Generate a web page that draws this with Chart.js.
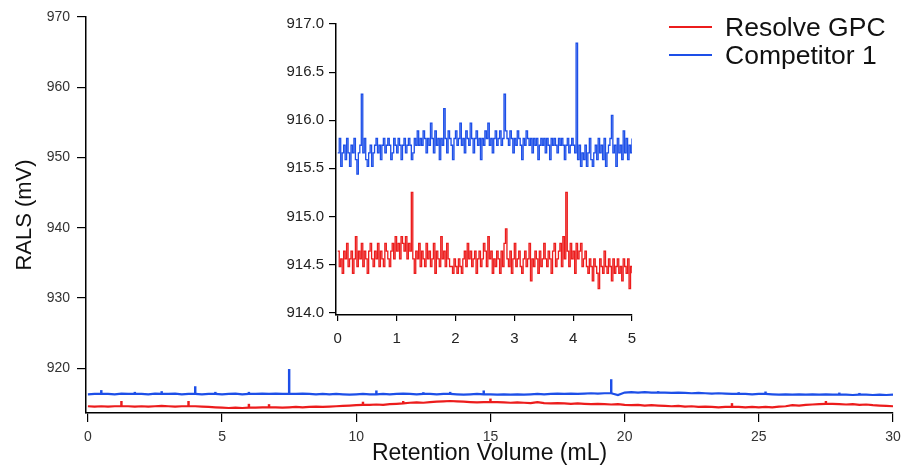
<!DOCTYPE html>
<html>
<head>
<meta charset="utf-8">
<script src="https://cdn.jsdelivr.net/npm/chart.js@4.4.1/dist/chart.umd.min.js"></script>
<style>
  html, body { margin: 0; padding: 0; background: #fff; }
  #wrap { position: relative; width: 902px; height: 465px; overflow: hidden; }
  #mainChart { position: absolute; left: 0; top: 0; }
  #insetChart { position: absolute; left: 270px; top: 0; }
  #legend { position: absolute; left: 669px; top: 13px; font-family: "Liberation Sans", Arial, sans-serif; }
  #legend .item { display: flex; align-items: center; height: 28px; }
  #legend .swatch { width: 43px; height: 0; border-top: 2px solid; margin-right: 13px; }
  #legend .text { font-size: 26.5px; color: #111; line-height: 28px; }
</style>
</head>
<body>
<div id="wrap">
  <canvas id="mainChart" width="902" height="465"></canvas>
  <canvas id="insetChart" width="380" height="350"></canvas>
  <div id="legend"></div>
</div>
<script>
// series names and colours
const seriesNames = ["Resolve GPC", "Competitor 1"];
const seriesColors = ["#ec1c1c", "#1d4fe8"];

// full run, 0 - 30 mL, baseline read every 0.25 mL
const mainStep = 0.25;
const resolveMain = [
  914.60, 914.55, 914.60, 914.55, 914.60, 914.60, 914.60, 914.55, 914.60, 914.55,
  914.60, 914.65, 914.60, 914.55, 914.60, 914.60, 914.60, 914.55, 914.50, 914.45,
  914.40, 914.35, 914.40, 914.35, 914.40, 914.40, 914.45, 914.45, 914.45, 914.40,
  914.45, 914.50, 914.45, 914.50, 914.55, 914.50, 914.55, 914.60, 914.65, 914.70,
  914.75, 914.80, 914.80, 914.85, 914.80, 914.90, 914.95, 915.00, 915.10, 915.15,
  915.10, 915.20, 915.25, 915.30, 915.35, 915.30, 915.25, 915.20, 915.15, 915.20,
  915.20, 915.20, 915.15, 915.10, 915.15, 915.10, 915.05, 915.20, 915.05, 915.00,
  915.05, 915.00, 914.95, 915.00, 914.95, 914.90, 914.95, 914.90, 914.85, 914.90,
  914.80, 914.75, 914.80, 914.70, 914.75, 914.70, 914.65, 914.60, 914.65, 914.55,
  914.60, 914.50, 914.55, 914.50, 914.45, 914.50, 914.50, 914.50, 914.45, 914.50,
  914.45, 914.50, 914.45, 914.55, 914.60, 914.75, 914.70, 914.80, 914.85, 914.90,
  914.95, 914.95, 914.90, 914.85, 914.90, 914.80, 914.85, 914.75, 914.70, 914.65,
  914.60
];
const competitorMain = [
  916.30, 916.35, 916.35, 916.35, 916.30, 916.40, 916.35, 916.35, 916.35, 916.30,
  916.40, 916.35, 916.35, 916.40, 916.30, 916.35, 916.35, 916.30, 916.35, 916.35,
  916.30, 916.35, 916.40, 916.30, 916.35, 916.35, 916.40, 916.35, 916.40, 916.35,
  916.35, 916.35, 916.40, 916.35, 916.30, 916.35, 916.30, 916.35, 916.30, 916.25,
  916.30, 916.35, 916.30, 916.30, 916.35, 916.30, 916.35, 916.40, 916.35, 916.30,
  916.35, 916.35, 916.30, 916.35, 916.35, 916.30, 916.25, 916.30, 916.35, 916.30,
  916.30, 916.25, 916.30, 916.25, 916.30, 916.25, 916.30, 916.35, 916.30, 916.35,
  916.40, 916.35, 916.40, 916.35, 916.40, 916.45, 916.40, 916.45, 916.45, 916.20,
  916.55, 916.60, 916.55, 916.60, 916.55, 916.55, 916.55, 916.50, 916.55, 916.50,
  916.45, 916.50, 916.45, 916.40, 916.45, 916.40, 916.35, 916.35, 916.35, 916.30,
  916.35, 916.35, 916.30, 916.25, 916.30, 916.25, 916.30, 916.25, 916.30, 916.25,
  916.30, 916.25, 916.25, 916.25, 916.20, 916.25, 916.25, 916.20, 916.25, 916.20,
  916.25
];

// single-reading spikes on the full run: volume (mL) and peak value (mV)
const resolveSpikeAt = [1.25, 3.75, 6.0, 6.75, 10.25, 11.75, 15.0, 24.0, 27.5];
const resolveSpikeTop = [915.30, 915.30, 914.90, 914.85, 915.20, 915.30, 915.65, 915.00, 915.30];
const competitorSpikeAt = [0.5, 1.75, 2.75, 4.0, 4.75, 6.0, 7.5, 10.75, 12.5, 13.5, 14.75, 19.5, 21.25, 24.25, 25.25, 28.0, 28.75];
const competitorSpikeTop = [916.85, 916.60, 916.70, 917.40, 916.60, 916.60, 919.85, 916.80, 916.55, 916.60, 916.80, 918.40, 916.70, 916.55, 916.65, 916.50, 916.45];

// first 5 mL at full resolution, one reading every 0.025 mL
const insetStep = 0.025;
const resolveInset = [
  914.64, 914.48, 914.56, 914.41, 914.64, 914.56, 914.72, 914.48, 914.56, 914.64,
  914.41, 914.56, 914.79, 914.48, 914.64, 914.56, 914.72, 914.48, 914.64, 914.56,
  914.41, 914.64, 914.72, 914.56, 914.48, 914.64, 914.56, 914.72, 914.48, 914.64,
  914.56, 914.48, 914.72, 914.64, 914.56, 914.48, 914.64, 914.72, 914.56, 914.79,
  914.64, 914.72, 914.56, 914.79, 914.72, 914.64, 914.79, 914.56, 914.72, 914.64,
  915.25, 914.56, 914.41, 914.64, 914.56, 914.72, 914.48, 914.64, 914.56, 914.48,
  914.72, 914.56, 914.64, 914.48, 914.56, 914.72, 914.41, 914.64, 914.56, 914.48,
  914.79, 914.56, 914.64, 914.48, 914.72, 914.56, 914.48, 914.48, 914.41, 914.56,
  914.48, 914.41, 914.56, 914.48, 914.41, 914.56, 914.64, 914.48, 914.72, 914.56,
  914.64, 914.48, 914.56, 914.64, 914.41, 914.56, 914.64, 914.48, 914.56, 914.72,
  914.64, 914.48, 914.79, 914.56, 914.64, 914.41, 914.56, 914.48, 914.64, 914.56,
  914.41, 914.64, 914.48, 914.72, 914.87, 914.56, 914.48, 914.64, 914.41, 914.56,
  914.72, 914.48, 914.56, 914.64, 914.48, 914.41, 914.56, 914.64, 914.48, 914.56,
  914.72, 914.33, 914.56, 914.48, 914.64, 914.56, 914.41, 914.64, 914.48, 914.56,
  914.72, 914.56, 914.48, 914.64, 914.56, 914.41, 914.64, 914.72, 914.48, 914.56,
  914.64, 914.72, 914.48, 914.79, 914.56, 915.25, 914.64, 914.48, 914.72, 914.56,
  914.64, 914.41, 914.72, 914.56, 914.64, 914.72, 914.48, 914.56, 914.64, 914.48,
  914.41, 914.56, 914.48, 914.33, 914.56, 914.48, 914.41, 914.25, 914.56, 914.48,
  914.41, 914.64, 914.48, 914.41, 914.56, 914.48, 914.33, 914.56, 914.41, 914.48,
  914.56, 914.41, 914.48, 914.33, 914.56, 914.48, 914.41, 914.56, 914.25, 914.48,
  914.41
];
const competitorInset = [
  915.66, 915.81, 915.52, 915.66, 915.74, 915.59, 915.81, 915.66, 915.52, 915.74,
  915.66, 915.81, 915.59, 915.44, 915.66, 915.74, 916.27, 915.66, 915.81, 915.59,
  915.52, 915.66, 915.74, 915.52, 915.66, 915.74, 915.81, 915.66, 915.74, 915.59,
  915.74, 915.81, 915.66, 915.74, 915.81, 915.74, 915.59, 915.66, 915.81, 915.74,
  915.66, 915.81, 915.74, 915.59, 915.74, 915.81, 915.66, 915.74, 915.81, 915.74,
  915.59, 915.66, 915.81, 915.74, 915.89, 915.74, 915.81, 915.74, 915.89, 915.81,
  915.66, 915.81, 915.74, 915.97, 915.81, 915.66, 915.89, 915.74, 915.81, 915.59,
  915.81, 915.74, 916.12, 915.81, 915.66, 915.89, 915.81, 915.74, 915.59, 915.81,
  915.89, 915.74, 915.81, 915.97, 915.74, 915.81, 915.66, 915.89, 915.81, 915.74,
  915.97, 915.81, 915.66, 915.81, 915.89, 915.74, 915.81, 915.59, 915.81, 915.74,
  915.89, 915.81, 915.97, 915.74, 915.81, 915.66, 915.81, 915.89, 915.74, 915.81,
  915.89, 915.74, 915.81, 916.27, 915.89, 915.81, 915.74, 915.89, 915.81, 915.66,
  915.81, 915.74, 915.89, 915.81, 915.74, 915.59, 915.81, 915.74, 915.89, 915.81,
  915.74, 915.81, 915.66, 915.81, 915.74, 915.81, 915.59, 915.74, 915.81, 915.74,
  915.81, 915.66, 915.81, 915.74, 915.59, 915.81, 915.74, 915.81, 915.74, 915.66,
  915.81, 915.74, 915.81, 915.74, 915.59, 915.74, 915.81, 915.66, 915.74, 915.81,
  915.74, 915.66, 916.80, 915.59, 915.74, 915.52, 915.66, 915.59, 915.74, 915.52,
  915.66, 915.81, 915.59, 915.52, 915.66, 915.74, 915.59, 915.81, 915.66, 915.74,
  915.59, 915.81, 915.52, 915.66, 915.74, 915.81, 916.05, 915.66, 915.74, 915.52,
  915.81, 915.66, 915.74, 915.59, 915.89, 915.66, 915.81, 915.59, 915.74, 915.66,
  915.81
];

// tick labels
const mainXTicks = [0, 5, 10, 15, 20, 25, 30];
const mainYTicks = [920, 930, 940, 950, 960, 970];
const insetXTicks = [0, 1, 2, 3, 4, 5];
const insetYTicks = [914.0, 914.5, 915.0, 915.5, 916.0, 916.5, 917.0];

const FONT = '"Liberation Sans", Arial, Helvetica, sans-serif';

const toPoints = (values, step) => values.map((v, i) => ({ x: i * step, y: v }));

// spikes drawn as thin floating bars standing on the baseline reading
const toSpikes = (at, top, baseline) =>
  at.map((x, i) => ({ x: x, y: [baseline[Math.round(x / mainStep)], top[i]] }));

const lineSet = (label, color, data, width, stepped) => ({
  type: "line",
  label: label,
  data: data,
  borderColor: color,
  backgroundColor: color,
  borderWidth: width,
  pointRadius: 0,
  tension: 0,
  stepped: stepped,
});

const spikeSet = (label, color, data) => ({
  type: "bar",
  label: label,
  data: data,
  backgroundColor: color,
  borderWidth: 0,
  barThickness: 1.8,
  grouped: false,
});

const fixedTicks = (list) => (scale) => {
  scale.ticks = list.map((v) => ({ value: v }));
};

const axisGrid = (len) => ({
  offset: false,
  drawOnChartArea: false,
  drawTicks: true,
  tickLength: len,
  color: "#000",
  lineWidth: 1.2,
});

// main chart, whole run
const mainChart = new Chart(document.getElementById("mainChart"), {
  type: "line",
  data: {
    datasets: [
      lineSet(seriesNames[0], seriesColors[0], toPoints(resolveMain, mainStep), 2.2, false),
      lineSet(seriesNames[1], seriesColors[1], toPoints(competitorMain, mainStep), 2.2, false),
      spikeSet(seriesNames[0] + " spikes", seriesColors[0], toSpikes(resolveSpikeAt, resolveSpikeTop, resolveMain)),
      spikeSet(seriesNames[1] + " spikes", seriesColors[1], toSpikes(competitorSpikeAt, competitorSpikeTop, competitorMain)),
    ],
  },
  options: {
    responsive: false,
    animation: false,
    layout: { padding: { left: 0, top: 17, right: 9, bottom: 0 } },
    plugins: { legend: { display: false }, tooltip: { enabled: false } },
    scales: {
      x: {
        type: "linear",
        min: -0.07,
        max: 30,
        offset: false,
        afterBuildTicks: fixedTicks(mainXTicks),
        afterFit: (scale) => {
          scale.height = 52;
          // the end labels may overhang the plot edge, the outer padding is enough
          scale.paddingLeft = 0;
          scale.paddingRight = 0;
        },
        grid: axisGrid(9),
        border: { color: "#000", width: 1.5 },
        ticks: { color: "#333", font: { family: FONT, size: 14 }, padding: 7, maxRotation: 0 },
        title: {
          display: true,
          text: "Retention Volume (mL)",
          color: "#111",
          font: { family: FONT, size: 23, lineHeight: 1 },
          padding: { top: 0, bottom: 0 },
        },
      },
      y: {
        type: "linear",
        min: 913.64,
        max: 970,
        afterBuildTicks: fixedTicks(mainYTicks),
        afterFit: (scale) => { scale.width = 86; },
        grid: axisGrid(9),
        border: { color: "#000", width: 1.5 },
        ticks: { color: "#333", font: { family: FONT, size: 14 }, padding: 7 },
        title: {
          display: true,
          text: "RALS (mV)",
          color: "#111",
          font: { family: FONT, size: 22, lineHeight: 1 },
          padding: { top: 14, bottom: 0 },
        },
      },
    },
  },
});

// inset, zoom on the first 5 mL
new Chart(document.getElementById("insetChart"), {
  type: "line",
  data: {
    datasets: [
      lineSet(seriesNames[0], seriesColors[0], toPoints(resolveInset, insetStep), 1.3, true),
      lineSet(seriesNames[1], seriesColors[1], toPoints(competitorInset, insetStep), 1.3, true),
    ],
  },
  options: {
    responsive: false,
    animation: false,
    layout: { padding: { left: 0, top: 24, right: 18, bottom: 0 } },
    plugins: { legend: { display: false }, tooltip: { enabled: false } },
    scales: {
      x: {
        type: "linear",
        min: -0.03,
        max: 5,
        afterBuildTicks: fixedTicks(insetXTicks),
        afterFit: (scale) => { scale.height = 35; },
        grid: axisGrid(6),
        border: { color: "#000", width: 1.5 },
        ticks: { color: "#222", font: { family: FONT, size: 15 }, padding: 9, maxRotation: 0 },
      },
      y: {
        type: "linear",
        min: 913.976,
        max: 917.0,
        afterBuildTicks: fixedTicks(insetYTicks),
        afterFit: (scale) => { scale.width = 66; },
        grid: axisGrid(7),
        border: { color: "#000", width: 1.5 },
        ticks: {
          color: "#222",
          font: { family: FONT, size: 15 },
          padding: 5,
          callback: (v) => Number(v).toFixed(1),
        },
      },
    },
  },
});

// legend as html, built from the chart's own legend items (line series only)
const legendBox = document.getElementById("legend");
mainChart.options.plugins.legend.labels.generateLabels(mainChart)
  .filter((item) => item.datasetIndex < 2)
  .forEach((item) => {
    const row = document.createElement("div");
    row.className = "item";
    const swatch = document.createElement("span");
    swatch.className = "swatch";
    swatch.style.borderTopColor = item.strokeStyle;
    const text = document.createElement("span");
    text.className = "text";
    text.textContent = item.text;
    row.appendChild(swatch);
    row.appendChild(text);
    legendBox.appendChild(row);
  });
</script>
</body>
</html>
